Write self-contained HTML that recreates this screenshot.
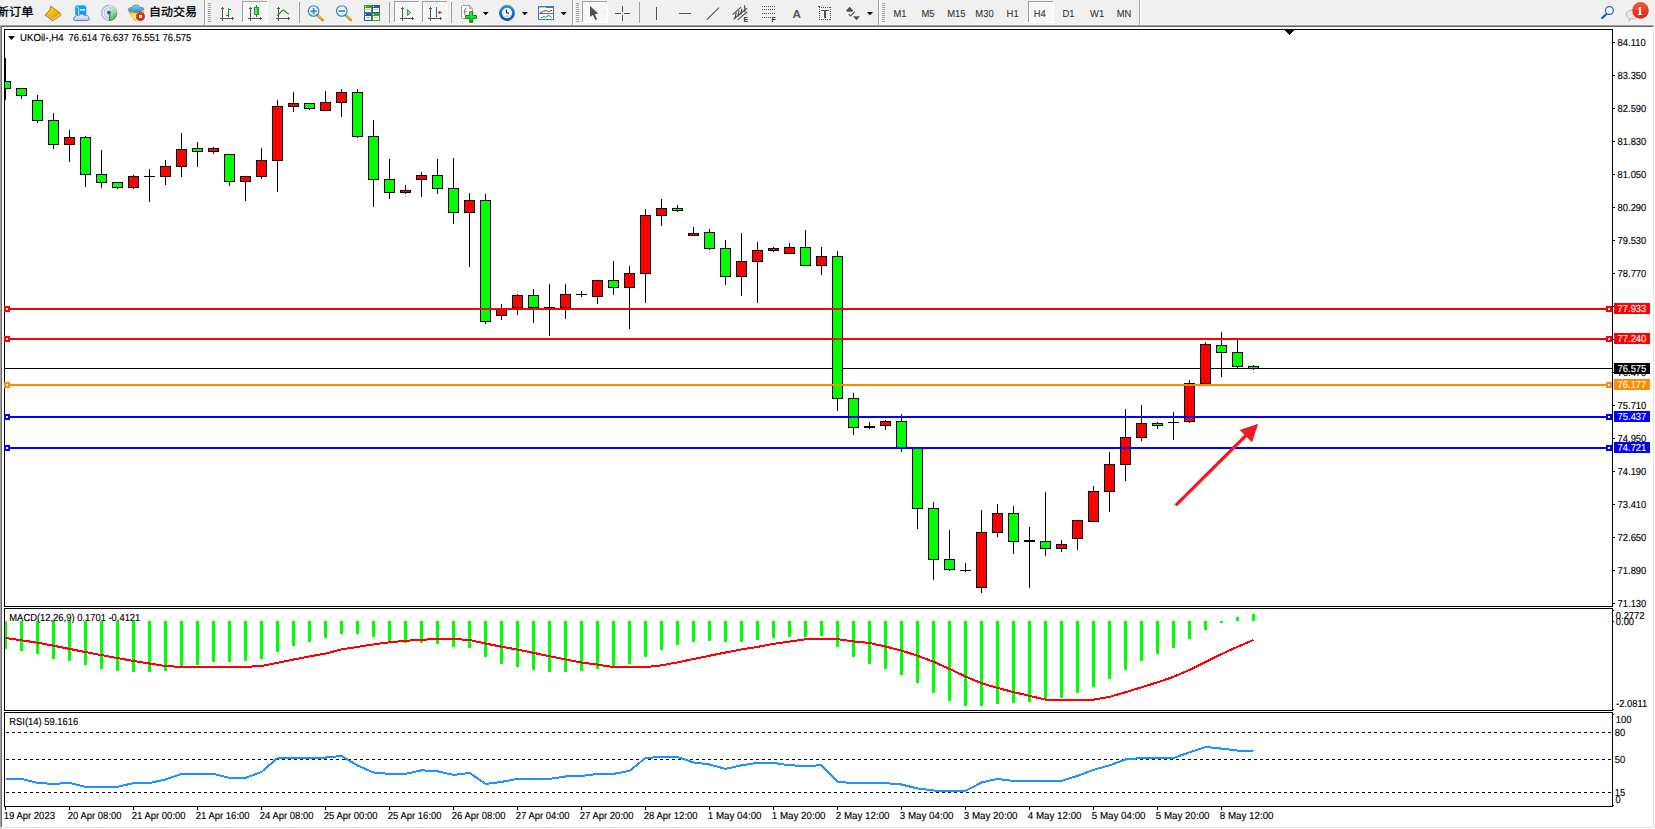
<!DOCTYPE html>
<html lang="zh-CN">
<head>
<meta charset="utf-8">
<title>UKOil-,H4</title>
<style>
html,body{margin:0;padding:0;background:#fff;}
body{width:1655px;height:829px;overflow:hidden;position:relative;font-family:"Liberation Sans","Noto Sans CJK SC",sans-serif;}
svg{position:absolute;left:0;top:0;display:block;}
.t text,text.t{font-family:"Liberation Sans",sans-serif;font-size:10.2px;fill:#000;stroke:#000;stroke-width:0.15px;text-rendering:geometricPrecision;}
text.w{fill:#fff;stroke:#fff;stroke-width:0.12px;}
.tb text{font-family:"Liberation Sans","Noto Sans CJK SC",sans-serif;}
</style>
</head>
<body>
<svg width="1655" height="829" viewBox="0 0 1655 829" shape-rendering="crispEdges">
<rect x="0" y="0" width="1655" height="829" fill="#fff"/>
<g class="tb">
<defs><linearGradient id="gGold" x1="0" y1="0" x2="1" y2="1"><stop offset="0" stop-color="#ffe14d"/><stop offset="0.5" stop-color="#f0b90f"/><stop offset="1" stop-color="#c98a06"/></linearGradient><linearGradient id="gCloud" x1="0" y1="0" x2="0" y2="1"><stop offset="0" stop-color="#ffffff"/><stop offset="1" stop-color="#b4bfd8"/></linearGradient><linearGradient id="gBadge" x1="0" y1="0" x2="0" y2="1"><stop offset="0" stop-color="#ea5a3a"/><stop offset="1" stop-color="#d8260c"/></linearGradient><linearGradient id="gHat" x1="0" y1="0" x2="0" y2="1"><stop offset="0" stop-color="#8fd0f0"/><stop offset="1" stop-color="#2f8fc8"/></linearGradient><linearGradient id="gCandle" x1="0" y1="0" x2="1" y2="0"><stop offset="0" stop-color="#7cf08c"/><stop offset="1" stop-color="#22c238"/></linearGradient><linearGradient id="gSig" x1="0.2" y1="0" x2="0.5" y2="1"><stop offset="0" stop-color="#d8ead8" stop-opacity="0.7"/><stop offset="0.6" stop-color="#9ccf9c"/><stop offset="1" stop-color="#3cae3c"/></linearGradient><linearGradient id="gFace" x1="0" y1="0" x2="1" y2="1"><stop offset="0" stop-color="#f0b820"/><stop offset="0.5" stop-color="#fff07a"/><stop offset="1" stop-color="#f0c030"/></linearGradient><linearGradient id="gClock" x1="0" y1="0" x2="0" y2="1"><stop offset="0" stop-color="#1c8cf0"/><stop offset="1" stop-color="#0a50b4"/></linearGradient><linearGradient id="gPlus" x1="0" y1="0" x2="0" y2="1"><stop offset="0" stop-color="#5cf46a"/><stop offset="0.5" stop-color="#14e428"/><stop offset="1" stop-color="#06b414"/></linearGradient><radialGradient id="gLens" cx="0.4" cy="0.35" r="0.8"><stop offset="0" stop-color="#ffffff"/><stop offset="1" stop-color="#bfe4fa"/></radialGradient><pattern id="chk" x="0" y="0" width="2" height="2" patternUnits="userSpaceOnUse"><rect width="2" height="2" fill="#f0f0f0"/><rect width="1" height="1" fill="#fff"/><rect x="1" y="1" width="1" height="1" fill="#fff"/></pattern></defs>
<rect x="0" y="0" width="1655" height="24" fill="#f0f0f0"/>
<rect x="0" y="24" width="1655" height="1" fill="#f4f4f4"/>
<rect x="0" y="25" width="1654" height="1" fill="#a0a0a0"/>
<rect x="1" y="26" width="1652" height="1" fill="#696969"/>
<rect x="1654" y="25" width="1" height="2" fill="#fff"/>
<text transform="translate(-3.4 16) scale(1.0 0.94)" font-size="12.3" fill="#000" stroke="#000" stroke-width="0.3">新订单</text>
<g shape-rendering="geometricPrecision"><path d="M50.9 6.1L60.6 13.6L61 15.3L52.6 20.8L45.1 15L49.8 10Z" fill="url(#gGold)" stroke="#b87408" stroke-width="1"/><path d="M45.4 15L52.6 20.4L53.4 18.8L46.6 13.8Z" fill="#c8880c"/><path d="M52.8 20.4L60.8 15.2L60.4 13.8L53.4 18.6Z" fill="#e6d49c"/><path d="M46.4 14.6L53 19.4" fill="none" stroke="#ffe890" stroke-width="0.8"/><path d="M53.4 19.8L60.6 15" fill="none" stroke="#b08a30" stroke-width="0.5"/></g>
<g shape-rendering="geometricPrecision"><path d="M75.2 5.6L84.6 5.2L86.2 7.2V15H75.2Z" fill="#0aa0ff"/><path d="M75.6 6L78.6 8.2V15" fill="none" stroke="#fff" stroke-width="0.8"/><rect x="80" y="9" width="5" height="1.6" fill="#e8f6ff"/><path d="M75.5 20.6C73 20.6 72.6 17.6 75 17.2C75 15.4 77.6 14.8 78.6 16C79.6 13.6 83.6 13.4 84.4 16C86 14.6 89 15.6 88.6 18C89.8 18.8 89.2 20.6 87.4 20.6Z" fill="url(#gCloud)" stroke="#5570aa" stroke-width="0.9"/></g>
<g shape-rendering="geometricPrecision" fill="none"><circle cx="109.1" cy="12.9" r="7.5" stroke="#3a66d0" stroke-opacity="0.5" stroke-width="1.1"/><circle cx="109.1" cy="12.9" r="5" stroke="#3a66d0" stroke-opacity="0.38" stroke-width="1.1"/><circle cx="109.1" cy="12.9" r="2.8" stroke="#3a66d0" stroke-opacity="0.2" stroke-width="0.9"/><path d="M109.2 12.9V21.1A8.2 8.2 0 0 0 109.2 4.7Z" fill="url(#gSig)" stroke="none"/><path d="M109.2 20.4A7.5 7.5 0 0 0 116.6 12.9" stroke="#2c8a4c" stroke-opacity="0.55" stroke-width="1"/><path d="M109.2 17.9A5 5 0 0 0 114.1 12.9" stroke="#3c9a5c" stroke-opacity="0.4" stroke-width="1"/><circle cx="108.9" cy="12.6" r="1.9" fill="#2456d0" stroke="none"/><rect x="109" y="13" width="1.3" height="7.9" fill="#16a616" stroke="none"/></g>
<g shape-rendering="geometricPrecision"><path d="M128.6 11.6L136 12.6L144 11.4L143.4 14L136.2 20.6L134.6 20.2Z" fill="url(#gFace)" stroke="#d8a010" stroke-width="0.7"/><path d="M128.2 9.6C128.2 8.2 130.4 7.6 132 7.6C132.6 5.4 134.4 5 136.2 5C138 5 139.6 5.6 140 7.4C142 7.2 144 7.8 144 9C144 10.4 140 12.2 135.6 12.2C131.6 12.2 128.2 11.2 128.2 9.6Z" fill="url(#gHat)" stroke="#2a86b8" stroke-width="0.7"/><circle cx="140.5" cy="16.5" r="4.1" fill="#e02a0c"/><circle cx="140.5" cy="16.5" r="4.1" fill="none" stroke="#b81c04" stroke-width="0.5"/><rect x="139" y="14.9" width="3.1" height="3.1" fill="#fff"/></g>
<text transform="translate(149 16) scale(1.0 0.94)" font-size="12" fill="#000" stroke="#000" stroke-width="0.3">自动交易</text>
<rect x="204" y="0" width="1" height="25" fill="#a0a0a0"/><rect x="205" y="0" width="1" height="25" fill="#fff"/>
<rect x="208" y="3" width="3" height="1" fill="#a0a0a0"/><rect x="208" y="5" width="3" height="1" fill="#a0a0a0"/><rect x="208" y="7" width="3" height="1" fill="#a0a0a0"/><rect x="208" y="9" width="3" height="1" fill="#a0a0a0"/><rect x="208" y="11" width="3" height="1" fill="#a0a0a0"/><rect x="208" y="13" width="3" height="1" fill="#a0a0a0"/><rect x="208" y="15" width="3" height="1" fill="#a0a0a0"/><rect x="208" y="17" width="3" height="1" fill="#a0a0a0"/><rect x="208" y="19" width="3" height="1" fill="#a0a0a0"/><rect x="208" y="21" width="3" height="1" fill="#a0a0a0"/>
<rect x="222" y="7" width="1" height="14" fill="#555"/><rect x="220" y="18" width="14" height="1" fill="#555"/><rect x="221" y="8" width="3" height="1" fill="#555"/><rect x="232" y="17" width="1" height="3" fill="#555"/>
<rect x="228" y="8" width="1" height="9" fill="#18901c"/><rect x="229" y="9" width="2" height="1" fill="#18901c"/><rect x="226" y="15" width="2" height="1" fill="#18901c"/>
<rect x="242" y="1" width="26" height="22" fill="url(#chk)"/>
<rect x="242" y="1" width="25" height="1" fill="#a0a0a0"/><rect x="242" y="1" width="1" height="22" fill="#a0a0a0"/><rect x="267" y="1" width="1" height="22" fill="#fff"/><rect x="242" y="22" width="26" height="1" fill="#fff"/>
<rect x="250" y="7" width="1" height="14" fill="#555"/><rect x="248" y="18" width="14" height="1" fill="#555"/><rect x="249" y="8" width="3" height="1" fill="#555"/><rect x="260" y="17" width="1" height="3" fill="#555"/>
<rect x="256" y="5" width="1" height="12" fill="#18901c"/><rect x="254" y="7" width="5" height="8" fill="#18a01c"/><rect x="255" y="8" width="3" height="6" fill="url(#gCandle)"/>
<rect x="278" y="7" width="1" height="14" fill="#555"/><rect x="276" y="18" width="14" height="1" fill="#555"/><rect x="277" y="8" width="3" height="1" fill="#555"/><rect x="288" y="17" width="1" height="3" fill="#555"/>
<path d="M277 15.8C280 14 281.6 10 283.4 10.2C285 10.4 286.6 13.2 288.8 14" fill="none" stroke="#2c922c" stroke-width="1.2" shape-rendering="geometricPrecision"/>
<rect x="299" y="2" width="1" height="21" fill="#a0a0a0"/>
<g shape-rendering="geometricPrecision"><path d="M317.20000000000005 14.8L322.8 20.2" stroke="#c89a12" stroke-width="2.6" stroke-linecap="round"/><path d="M317.6 14.6L322.6 19.4" stroke="#f6dc6a" stroke-width="0.9"/><circle cx="313.6" cy="11" r="5.3" fill="url(#gLens)" stroke="#2f80c8" stroke-width="1.1"/><rect x="310.40000000000003" y="10.2" width="6.4" height="1.7" fill="#3f86b4"/><rect x="312.75" y="7.8" width="1.7" height="6.4" fill="#3f86b4"/></g>
<g shape-rendering="geometricPrecision"><path d="M345.40000000000003 14.8L351.0 20.2" stroke="#c89a12" stroke-width="2.6" stroke-linecap="round"/><path d="M345.8 14.6L350.8 19.4" stroke="#f6dc6a" stroke-width="0.9"/><circle cx="341.8" cy="11" r="5.3" fill="url(#gLens)" stroke="#2f80c8" stroke-width="1.1"/><rect x="338.6" y="10.2" width="6.4" height="1.7" fill="#3f86b4"/></g>
<rect x="364" y="5" width="8" height="8" fill="#3f9c1c"/><rect x="365" y="8" width="6" height="4" fill="#fff"/><rect x="366" y="9" width="4" height="1" fill="#a8dc8c"/><rect x="365" y="6" width="1" height="1" fill="#fff"/><rect x="372" y="5" width="8" height="8" fill="#2354d4"/><rect x="373" y="8" width="6" height="4" fill="#fff"/><rect x="374" y="9" width="4" height="1" fill="#a8c0f4"/><rect x="373" y="6" width="1" height="1" fill="#fff"/><rect x="364" y="13" width="8" height="8" fill="#2354d4"/><rect x="365" y="16" width="6" height="4" fill="#fff"/><rect x="366" y="17" width="4" height="1" fill="#a8c0f4"/><rect x="365" y="14" width="1" height="1" fill="#fff"/><rect x="372" y="13" width="8" height="8" fill="#3f9c1c"/><rect x="373" y="16" width="6" height="4" fill="#fff"/><rect x="374" y="17" width="4" height="1" fill="#a8dc8c"/><rect x="373" y="14" width="1" height="1" fill="#fff"/>
<rect x="389" y="2" width="1" height="21" fill="#a0a0a0"/>
<rect x="394" y="1" width="26" height="22" fill="url(#chk)"/>
<rect x="394" y="1" width="25" height="1" fill="#a0a0a0"/><rect x="394" y="1" width="1" height="22" fill="#a0a0a0"/><rect x="419" y="1" width="1" height="22" fill="#fff"/><rect x="394" y="22" width="26" height="1" fill="#fff"/>
<rect x="402" y="7" width="1" height="14" fill="#555"/><rect x="400" y="18" width="14" height="1" fill="#555"/><rect x="401" y="8" width="3" height="1" fill="#555"/><rect x="412" y="17" width="1" height="3" fill="#555"/>
<path d="M407.4 9.4L410.8 12.6L407.4 15.6Z" fill="#7ce08c" stroke="#18a01c" stroke-width="0.9" shape-rendering="geometricPrecision"/>
<rect x="422" y="1" width="26" height="22" fill="url(#chk)"/>
<rect x="422" y="1" width="25" height="1" fill="#a0a0a0"/><rect x="422" y="1" width="1" height="22" fill="#a0a0a0"/><rect x="447" y="1" width="1" height="22" fill="#fff"/><rect x="422" y="22" width="26" height="1" fill="#fff"/>
<rect x="430" y="7" width="1" height="14" fill="#555"/><rect x="428" y="18" width="14" height="1" fill="#555"/><rect x="429" y="8" width="3" height="1" fill="#555"/><rect x="440" y="17" width="1" height="3" fill="#555"/>
<rect x="436" y="7" width="1" height="10" fill="#1a6cb0"/>
<path d="M437.6 12.4L440.2 10.2V11.8H442V13H440.2V14.6Z" fill="#d84a10" shape-rendering="geometricPrecision"/>
<rect x="451" y="2" width="1" height="21" fill="#a0a0a0"/>
<g shape-rendering="geometricPrecision"><path d="M461.6 6.2Q461.6 5.4 462.4 5.4H469.4L472.4 8.4V17.6Q472.4 18.6 471.4 18.6H462.6Q461.6 18.6 461.6 17.6Z" fill="#fdfdfd" stroke="#8c8c8c" stroke-width="0.9"/><path d="M469.4 5.6V8.4H472.2" fill="#e0e0e0" stroke="#8c8c8c" stroke-width="0.7"/><path d="M466.4 8.2C464.4 8.4 465 11 464.2 11.6C465 12.2 464.4 15 465.4 15.6M464.6 11.6H466.6" fill="none" stroke="#4a4a3a" stroke-width="0.8"/><path d="M469.7 11.7H472.7V15.5H476.5V18.3H472.7V22.3H469.7V18.3H465.7V15.5H469.7Z" fill="url(#gPlus)" stroke="#0a8c12" stroke-width="1"/></g>
<path d="M482.7 12H488.7L485.7 15.2Z" fill="#000" shape-rendering="geometricPrecision"/>
<g shape-rendering="geometricPrecision"><circle cx="507" cy="13" r="6.55" fill="#f4f8fc" stroke="url(#gClock)" stroke-width="2.8"/><path d="M506.2 9.6L506.6 12.8L509 13.2" fill="none" stroke="#1a1a1a" stroke-width="1.1"/><path d="M502.6 10.6L503.4 11M502.4 14.8L503.2 14.6M511.4 10.8L510.8 11.2M511 15.6L510.4 15.2M504.6 17.2L505 16.6" stroke="#555" stroke-width="0.6"/><path d="M505.8 16.2H508" stroke="#7ab0f0" stroke-width="0.9"/></g>
<path d="M521.8 12H527.8L524.8 15.2Z" fill="#000" shape-rendering="geometricPrecision"/>
<rect x="538" y="6" width="16" height="14" fill="#3c78c8"/><rect x="539" y="8" width="14" height="11" fill="#fff"/><rect x="539" y="7" width="7" height="1" fill="#a8c8f0"/><rect x="538" y="13" width="16" height="1" fill="#3c78c8"/>
<g shape-rendering="geometricPrecision" fill="none" stroke-width="1"><path d="M540 12.2H542L543.6 11H545L546.4 10.4L548 11.4H549.6L551 10.4H552" stroke="#a02810"/><path d="M541 17.4H542.6L544 16.4L545.6 17.4L547 16.4L548.6 15.2L550.4 16.6L551.6 17.6" stroke="#109020"/></g>
<path d="M560.7 12H566.7L563.7 15.2Z" fill="#000" shape-rendering="geometricPrecision"/>
<rect x="572" y="0" width="1" height="25" fill="#a0a0a0"/><rect x="573" y="0" width="1" height="25" fill="#fff"/>
<rect x="576" y="3" width="3" height="1" fill="#a0a0a0"/><rect x="576" y="5" width="3" height="1" fill="#a0a0a0"/><rect x="576" y="7" width="3" height="1" fill="#a0a0a0"/><rect x="576" y="9" width="3" height="1" fill="#a0a0a0"/><rect x="576" y="11" width="3" height="1" fill="#a0a0a0"/><rect x="576" y="13" width="3" height="1" fill="#a0a0a0"/><rect x="576" y="15" width="3" height="1" fill="#a0a0a0"/><rect x="576" y="17" width="3" height="1" fill="#a0a0a0"/><rect x="576" y="19" width="3" height="1" fill="#a0a0a0"/><rect x="576" y="21" width="3" height="1" fill="#a0a0a0"/>
<rect x="582" y="1" width="26" height="22" fill="url(#chk)"/>
<rect x="582" y="1" width="25" height="1" fill="#a0a0a0"/><rect x="582" y="1" width="1" height="22" fill="#a0a0a0"/><rect x="607" y="1" width="1" height="22" fill="#fff"/><rect x="582" y="22" width="26" height="1" fill="#fff"/>
<path d="M590 6V16.7L592.9 14.9L595.3 20.1L597.1 19.2L594.8 14.3L598.2 13.5Z" fill="#505050" shape-rendering="geometricPrecision"/>
<rect x="615" y="13" width="6" height="1" fill="#505050"/><rect x="624" y="13" width="6" height="1" fill="#505050"/><rect x="622" y="6" width="1" height="6" fill="#505050"/><rect x="622" y="15" width="1" height="6" fill="#505050"/><rect x="622" y="13" width="1" height="1" fill="#a0a0a0"/>
<rect x="639" y="2" width="1" height="21" fill="#a0a0a0"/>
<rect x="656" y="7" width="1" height="13" fill="#505050"/>
<rect x="679" y="13" width="12" height="1" fill="#505050"/>
<path d="M706.8 19.6L719 7.6" stroke="#505050" stroke-width="1.1" fill="none" shape-rendering="geometricPrecision"/>
<g shape-rendering="geometricPrecision" stroke="#4a4a4a" stroke-width="1.1" fill="none"><path d="M732.6 14.6L741 7.2M733.6 19.2L747 8.2M737.6 19.8L747.2 11.8"/><path d="M736.2 12.4L735 18.4M739 10.6L737.8 16.6M741.8 8.8L740.8 14.6M744.6 5.4L745 12.4" stroke-width="1.2"/></g>
<text x="743.6" y="22" font-size="7" font-weight="bold" fill="#333">E</text>
<rect x="762" y="6" width="1" height="1" fill="#505050"/><rect x="764" y="6" width="1" height="1" fill="#505050"/><rect x="766" y="6" width="1" height="1" fill="#505050"/><rect x="768" y="6" width="1" height="1" fill="#505050"/><rect x="770" y="6" width="1" height="1" fill="#505050"/><rect x="772" y="6" width="1" height="1" fill="#505050"/><rect x="774" y="6" width="1" height="1" fill="#505050"/><rect x="762" y="9" width="1" height="1" fill="#505050"/><rect x="764" y="9" width="1" height="1" fill="#505050"/><rect x="766" y="9" width="1" height="1" fill="#505050"/><rect x="768" y="9" width="1" height="1" fill="#505050"/><rect x="770" y="9" width="1" height="1" fill="#505050"/><rect x="772" y="9" width="1" height="1" fill="#505050"/><rect x="774" y="9" width="1" height="1" fill="#505050"/><rect x="762" y="13" width="1" height="1" fill="#505050"/><rect x="764" y="13" width="1" height="1" fill="#505050"/><rect x="766" y="13" width="1" height="1" fill="#505050"/><rect x="768" y="13" width="1" height="1" fill="#505050"/><rect x="770" y="13" width="1" height="1" fill="#505050"/><rect x="772" y="13" width="1" height="1" fill="#505050"/><rect x="774" y="13" width="1" height="1" fill="#505050"/><rect x="762" y="17" width="1" height="1" fill="#505050"/><rect x="764" y="17" width="1" height="1" fill="#505050"/><rect x="766" y="17" width="1" height="1" fill="#505050"/><rect x="768" y="17" width="1" height="1" fill="#505050"/><rect x="770" y="17" width="1" height="1" fill="#505050"/>
<text x="771.6" y="22" font-size="7" font-weight="bold" fill="#333">F</text>
<text x="792.6" y="18" font-size="11.8" font-weight="bold" fill="#585858">A</text>
<rect x="819" y="7" width="1" height="1" fill="#505050"/><rect x="819" y="19" width="1" height="1" fill="#505050"/><rect x="821" y="7" width="1" height="1" fill="#505050"/><rect x="821" y="19" width="1" height="1" fill="#505050"/><rect x="823" y="7" width="1" height="1" fill="#505050"/><rect x="823" y="19" width="1" height="1" fill="#505050"/><rect x="825" y="7" width="1" height="1" fill="#505050"/><rect x="825" y="19" width="1" height="1" fill="#505050"/><rect x="827" y="7" width="1" height="1" fill="#505050"/><rect x="827" y="19" width="1" height="1" fill="#505050"/><rect x="829" y="7" width="1" height="1" fill="#505050"/><rect x="829" y="19" width="1" height="1" fill="#505050"/><rect x="819" y="7" width="1" height="1" fill="#505050"/><rect x="830" y="7" width="1" height="1" fill="#505050"/><rect x="819" y="9" width="1" height="1" fill="#505050"/><rect x="830" y="9" width="1" height="1" fill="#505050"/><rect x="819" y="11" width="1" height="1" fill="#505050"/><rect x="830" y="11" width="1" height="1" fill="#505050"/><rect x="819" y="13" width="1" height="1" fill="#505050"/><rect x="830" y="13" width="1" height="1" fill="#505050"/><rect x="819" y="15" width="1" height="1" fill="#505050"/><rect x="830" y="15" width="1" height="1" fill="#505050"/><rect x="819" y="17" width="1" height="1" fill="#505050"/><rect x="830" y="17" width="1" height="1" fill="#505050"/><rect x="819" y="19" width="1" height="1" fill="#505050"/><rect x="830" y="19" width="1" height="1" fill="#505050"/><rect x="818" y="6" width="2" height="1" fill="#505050"/>
<rect x="821" y="10" width="8" height="1" fill="#505050"/><rect x="824" y="10" width="2" height="8" fill="#505050"/>
<g shape-rendering="geometricPrecision" fill="#505050"><path d="M846 10.6L849.6 6.8L853.2 10.6L852 11.8H847.2Z"/><path d="M853 16.2H860L856.4 20.2Z"/><path d="M848.6 14.2L850.6 16L854.6 11.6" fill="none" stroke="#505050" stroke-width="1.1"/></g>
<path d="M867 12H873L870 15.2Z" fill="#000" shape-rendering="geometricPrecision"/>
<rect x="878" y="0" width="1" height="25" fill="#a0a0a0"/><rect x="879" y="0" width="1" height="25" fill="#fff"/>
<rect x="882" y="3" width="3" height="1" fill="#a0a0a0"/><rect x="882" y="5" width="3" height="1" fill="#a0a0a0"/><rect x="882" y="7" width="3" height="1" fill="#a0a0a0"/><rect x="882" y="9" width="3" height="1" fill="#a0a0a0"/><rect x="882" y="11" width="3" height="1" fill="#a0a0a0"/><rect x="882" y="13" width="3" height="1" fill="#a0a0a0"/><rect x="882" y="15" width="3" height="1" fill="#a0a0a0"/><rect x="882" y="17" width="3" height="1" fill="#a0a0a0"/><rect x="882" y="19" width="3" height="1" fill="#a0a0a0"/><rect x="882" y="21" width="3" height="1" fill="#a0a0a0"/>
<rect x="1028" y="1" width="26" height="22" fill="url(#chk)"/>
<rect x="1028" y="1" width="25" height="1" fill="#a0a0a0"/><rect x="1028" y="1" width="1" height="22" fill="#a0a0a0"/><rect x="1053" y="1" width="1" height="22" fill="#fff"/><rect x="1028" y="22" width="26" height="1" fill="#fff"/>
<g font-size="10.2" fill="#303030" stroke="#303030" stroke-width="0.08" text-rendering="geometricPrecision" text-anchor="middle"><text transform="translate(900 17) scale(0.9216 1)">M1</text><text transform="translate(928 17) scale(0.9216 1)">M5</text><text transform="translate(956.4 17) scale(0.9216 1)">M15</text><text transform="translate(984.5 17) scale(0.9216 1)">M30</text><text transform="translate(1012.6 17) scale(0.9216 1)">H1</text><text transform="translate(1039.8 17) scale(0.9216 1)">H4</text><text transform="translate(1068.4 17) scale(0.9216 1)">D1</text><text transform="translate(1097.1 17) scale(0.9216 1)">W1</text><text transform="translate(1124 17) scale(0.9216 1)">MN</text></g>
<rect x="1139" y="0" width="1" height="25" fill="#a0a0a0"/><rect x="1140" y="0" width="1" height="25" fill="#fff"/>
<g shape-rendering="geometricPrecision"><path d="M1606 14.4L1602.2 18" stroke="#1f5fd8" stroke-width="2.3" stroke-linecap="round"/><circle cx="1609.4" cy="10.5" r="3.9" fill="#fafaff" stroke="#1f5fd8" stroke-width="1.2"/></g>
<g shape-rendering="geometricPrecision"><path d="M1626.4 14.4C1626.4 11.6 1629 10.2 1632 10.2C1635.4 10.2 1638 11.8 1638 14.6C1638 17.4 1635.6 19 1632 19C1631.4 19 1630.8 19 1630.4 18.9L1629.2 21.4L1629.4 18.6C1627.4 17.8 1626.4 16.4 1626.4 14.4Z" fill="#e8e8ee" stroke="#a8a8a8" stroke-width="0.8"/><circle cx="1640.5" cy="10.4" r="8.3" fill="url(#gBadge)"/></g>
<text x="1639.8" y="15" font-size="12.5" font-weight="bold" fill="#fff" text-anchor="middle" style="font-family:'Liberation Serif',serif">1</text>
</g>
<g class="chart">
<rect x="0" y="25" width="1" height="804" fill="#a0a0a0"/><rect x="1" y="26" width="1" height="802" fill="#696969"/>
<rect x="4" y="29" width="1609" height="1" fill="#000"/>
<rect x="4" y="29" width="1" height="778" fill="#000"/>
<rect x="1612" y="29" width="1" height="778" fill="#000"/>
<rect x="4" y="606" width="1609" height="1" fill="#000"/>
<rect x="4" y="608" width="1609" height="1" fill="#000"/>
<rect x="4" y="710" width="1609" height="1" fill="#000"/>
<rect x="4" y="712" width="1609" height="1" fill="#000"/>
<rect x="4" y="806" width="1609" height="1" fill="#000"/>
<rect x="4" y="607" width="1609" height="1" fill="#fff"/>
<rect x="4" y="711" width="1609" height="1" fill="#fff"/>
<rect x="1613" y="610" width="1" height="1" fill="#000"/>
<rect x="1613" y="621" width="1" height="1" fill="#000"/>
<rect x="1613" y="709" width="1" height="1" fill="#000"/>
<rect x="1613" y="714" width="1" height="1" fill="#000"/>
<rect x="1613" y="805" width="1" height="1" fill="#000"/>
<rect x="1653" y="26" width="1" height="802" fill="#e3e3e3"/>
<rect x="0" y="827" width="1654" height="1" fill="#e3e3e3"/>
<path d="M1284.5 30H1294.5L1289.5 35Z" fill="#000"/>
<rect x="5" y="368" width="1607" height="1" fill="#000"/>
<g><rect x="5" y="58" width="1" height="42" fill="#000"/><rect x="5" y="81" width="6" height="8" fill="#000"/><rect x="5" y="82" width="5" height="6" fill="#00ff00"/><rect x="21" y="88" width="1" height="11" fill="#000"/><rect x="16" y="88" width="11" height="8" fill="#000"/><rect x="17" y="89" width="9" height="6" fill="#00ff00"/><rect x="37" y="95" width="1" height="28" fill="#000"/><rect x="32" y="100" width="11" height="21" fill="#000"/><rect x="33" y="101" width="9" height="19" fill="#00ff00"/><rect x="53" y="113" width="1" height="36" fill="#000"/><rect x="48" y="120" width="11" height="25" fill="#000"/><rect x="49" y="121" width="9" height="23" fill="#00ff00"/><rect x="69" y="130" width="1" height="32" fill="#000"/><rect x="64" y="137" width="11" height="8" fill="#000"/><rect x="65" y="138" width="9" height="6" fill="#ff0000"/><rect x="85" y="136" width="1" height="51" fill="#000"/><rect x="80" y="137" width="11" height="38" fill="#000"/><rect x="81" y="138" width="9" height="36" fill="#00ff00"/><rect x="101" y="150" width="1" height="38" fill="#000"/><rect x="96" y="174" width="11" height="9" fill="#000"/><rect x="97" y="175" width="9" height="7" fill="#00ff00"/><rect x="117" y="182" width="1" height="7" fill="#000"/><rect x="112" y="182" width="11" height="6" fill="#000"/><rect x="113" y="183" width="9" height="4" fill="#00ff00"/><rect x="133" y="175" width="1" height="14" fill="#000"/><rect x="128" y="176" width="11" height="12" fill="#000"/><rect x="129" y="177" width="9" height="10" fill="#ff0000"/><rect x="149" y="169" width="1" height="33" fill="#000"/><rect x="144" y="176" width="11" height="1" fill="#000"/><rect x="165" y="160" width="1" height="25" fill="#000"/><rect x="160" y="166" width="11" height="11" fill="#000"/><rect x="161" y="167" width="9" height="9" fill="#ff0000"/><rect x="181" y="133" width="1" height="44" fill="#000"/><rect x="176" y="149" width="11" height="18" fill="#000"/><rect x="177" y="150" width="9" height="16" fill="#ff0000"/><rect x="197" y="142" width="1" height="25" fill="#000"/><rect x="192" y="148" width="11" height="4" fill="#000"/><rect x="193" y="149" width="9" height="2" fill="#00ff00"/><rect x="213" y="147" width="1" height="7" fill="#000"/><rect x="208" y="148" width="11" height="4" fill="#000"/><rect x="209" y="149" width="9" height="2" fill="#ff0000"/><rect x="229" y="154" width="1" height="32" fill="#000"/><rect x="224" y="154" width="11" height="28" fill="#000"/><rect x="225" y="155" width="9" height="26" fill="#00ff00"/><rect x="245" y="176" width="1" height="25" fill="#000"/><rect x="240" y="176" width="11" height="6" fill="#000"/><rect x="241" y="177" width="9" height="4" fill="#ff0000"/><rect x="261" y="148" width="1" height="31" fill="#000"/><rect x="256" y="160" width="11" height="17" fill="#000"/><rect x="257" y="161" width="9" height="15" fill="#ff0000"/><rect x="277" y="100" width="1" height="92" fill="#000"/><rect x="272" y="106" width="11" height="55" fill="#000"/><rect x="273" y="107" width="9" height="53" fill="#ff0000"/><rect x="293" y="92" width="1" height="20" fill="#000"/><rect x="288" y="103" width="11" height="4" fill="#000"/><rect x="289" y="104" width="9" height="2" fill="#ff0000"/><rect x="309" y="103" width="1" height="7" fill="#000"/><rect x="304" y="103" width="11" height="6" fill="#000"/><rect x="305" y="104" width="9" height="4" fill="#00ff00"/><rect x="325" y="91" width="1" height="20" fill="#000"/><rect x="320" y="102" width="11" height="9" fill="#000"/><rect x="321" y="103" width="9" height="7" fill="#ff0000"/><rect x="341" y="89" width="1" height="28" fill="#000"/><rect x="336" y="92" width="11" height="11" fill="#000"/><rect x="337" y="93" width="9" height="9" fill="#ff0000"/><rect x="357" y="89" width="1" height="49" fill="#000"/><rect x="352" y="92" width="11" height="45" fill="#000"/><rect x="353" y="93" width="9" height="43" fill="#00ff00"/><rect x="373" y="120" width="1" height="87" fill="#000"/><rect x="368" y="136" width="11" height="44" fill="#000"/><rect x="369" y="137" width="9" height="42" fill="#00ff00"/><rect x="389" y="159" width="1" height="40" fill="#000"/><rect x="384" y="179" width="11" height="14" fill="#000"/><rect x="385" y="180" width="9" height="12" fill="#00ff00"/><rect x="405" y="185" width="1" height="9" fill="#000"/><rect x="400" y="190" width="11" height="3" fill="#000"/><rect x="401" y="191" width="9" height="1" fill="#ff0000"/><rect x="421" y="172" width="1" height="25" fill="#000"/><rect x="416" y="175" width="11" height="5" fill="#000"/><rect x="417" y="176" width="9" height="3" fill="#ff0000"/><rect x="437" y="159" width="1" height="35" fill="#000"/><rect x="432" y="175" width="11" height="14" fill="#000"/><rect x="433" y="176" width="9" height="12" fill="#00ff00"/><rect x="453" y="158" width="1" height="66" fill="#000"/><rect x="448" y="188" width="11" height="25" fill="#000"/><rect x="449" y="189" width="9" height="23" fill="#00ff00"/><rect x="469" y="193" width="1" height="74" fill="#000"/><rect x="464" y="200" width="11" height="13" fill="#000"/><rect x="465" y="201" width="9" height="11" fill="#ff0000"/><rect x="485" y="194" width="1" height="130" fill="#000"/><rect x="480" y="200" width="11" height="122" fill="#000"/><rect x="481" y="201" width="9" height="120" fill="#00ff00"/><rect x="501" y="304" width="1" height="16" fill="#000"/><rect x="496" y="308" width="11" height="8" fill="#000"/><rect x="497" y="309" width="9" height="6" fill="#ff0000"/><rect x="517" y="294" width="1" height="21" fill="#000"/><rect x="512" y="295" width="11" height="13" fill="#000"/><rect x="513" y="296" width="9" height="11" fill="#ff0000"/><rect x="533" y="289" width="1" height="34" fill="#000"/><rect x="528" y="295" width="11" height="13" fill="#000"/><rect x="529" y="296" width="9" height="11" fill="#00ff00"/><rect x="549" y="284" width="1" height="52" fill="#000"/><rect x="544" y="307" width="11" height="1" fill="#000"/><rect x="565" y="284" width="1" height="35" fill="#000"/><rect x="560" y="294" width="11" height="14" fill="#000"/><rect x="561" y="295" width="9" height="12" fill="#ff0000"/><rect x="581" y="291" width="1" height="6" fill="#000"/><rect x="576" y="294" width="11" height="1" fill="#000"/><rect x="597" y="280" width="1" height="24" fill="#000"/><rect x="592" y="280" width="11" height="17" fill="#000"/><rect x="593" y="281" width="9" height="15" fill="#ff0000"/><rect x="613" y="261" width="1" height="34" fill="#000"/><rect x="608" y="280" width="11" height="8" fill="#000"/><rect x="609" y="281" width="9" height="6" fill="#00ff00"/><rect x="629" y="266" width="1" height="63" fill="#000"/><rect x="624" y="273" width="11" height="15" fill="#000"/><rect x="625" y="274" width="9" height="13" fill="#ff0000"/><rect x="645" y="209" width="1" height="94" fill="#000"/><rect x="640" y="215" width="11" height="59" fill="#000"/><rect x="641" y="216" width="9" height="57" fill="#ff0000"/><rect x="661" y="199" width="1" height="27" fill="#000"/><rect x="656" y="208" width="11" height="8" fill="#000"/><rect x="657" y="209" width="9" height="6" fill="#ff0000"/><rect x="677" y="205" width="1" height="7" fill="#000"/><rect x="672" y="208" width="11" height="3" fill="#000"/><rect x="673" y="209" width="9" height="1" fill="#00ff00"/><rect x="693" y="227" width="1" height="9" fill="#000"/><rect x="688" y="233" width="11" height="3" fill="#000"/><rect x="689" y="234" width="9" height="1" fill="#ff0000"/><rect x="709" y="229" width="1" height="21" fill="#000"/><rect x="704" y="232" width="11" height="17" fill="#000"/><rect x="705" y="233" width="9" height="15" fill="#00ff00"/><rect x="725" y="240" width="1" height="45" fill="#000"/><rect x="720" y="248" width="11" height="29" fill="#000"/><rect x="721" y="249" width="9" height="27" fill="#00ff00"/><rect x="741" y="233" width="1" height="63" fill="#000"/><rect x="736" y="261" width="11" height="16" fill="#000"/><rect x="737" y="262" width="9" height="14" fill="#ff0000"/><rect x="757" y="242" width="1" height="61" fill="#000"/><rect x="752" y="250" width="11" height="12" fill="#000"/><rect x="753" y="251" width="9" height="10" fill="#ff0000"/><rect x="773" y="247" width="1" height="5" fill="#000"/><rect x="768" y="248" width="11" height="3" fill="#000"/><rect x="769" y="249" width="9" height="1" fill="#ff0000"/><rect x="789" y="243" width="1" height="11" fill="#000"/><rect x="784" y="247" width="11" height="7" fill="#000"/><rect x="785" y="248" width="9" height="5" fill="#ff0000"/><rect x="805" y="230" width="1" height="36" fill="#000"/><rect x="800" y="247" width="11" height="19" fill="#000"/><rect x="801" y="248" width="9" height="17" fill="#00ff00"/><rect x="821" y="247" width="1" height="28" fill="#000"/><rect x="816" y="256" width="11" height="10" fill="#000"/><rect x="817" y="257" width="9" height="8" fill="#ff0000"/><rect x="837" y="251" width="1" height="160" fill="#000"/><rect x="832" y="256" width="11" height="143" fill="#000"/><rect x="833" y="257" width="9" height="141" fill="#00ff00"/><rect x="853" y="393" width="1" height="42" fill="#000"/><rect x="848" y="398" width="11" height="30" fill="#000"/><rect x="849" y="399" width="9" height="28" fill="#00ff00"/><rect x="869" y="422" width="1" height="7" fill="#000"/><rect x="864" y="426" width="11" height="2" fill="#000"/><rect x="885" y="420" width="1" height="10" fill="#000"/><rect x="880" y="421" width="11" height="5" fill="#000"/><rect x="881" y="422" width="9" height="3" fill="#ff0000"/><rect x="901" y="414" width="1" height="38" fill="#000"/><rect x="896" y="421" width="11" height="27" fill="#000"/><rect x="897" y="422" width="9" height="25" fill="#00ff00"/><rect x="917" y="448" width="1" height="81" fill="#000"/><rect x="912" y="448" width="11" height="61" fill="#000"/><rect x="913" y="449" width="9" height="59" fill="#00ff00"/><rect x="933" y="502" width="1" height="78" fill="#000"/><rect x="928" y="508" width="11" height="52" fill="#000"/><rect x="929" y="509" width="9" height="50" fill="#00ff00"/><rect x="949" y="530" width="1" height="41" fill="#000"/><rect x="944" y="559" width="11" height="11" fill="#000"/><rect x="945" y="560" width="9" height="9" fill="#00ff00"/><rect x="965" y="563" width="1" height="9" fill="#000"/><rect x="960" y="570" width="11" height="1" fill="#000"/><rect x="981" y="510" width="1" height="83" fill="#000"/><rect x="976" y="532" width="11" height="56" fill="#000"/><rect x="977" y="533" width="9" height="54" fill="#ff0000"/><rect x="997" y="504" width="1" height="33" fill="#000"/><rect x="992" y="513" width="11" height="20" fill="#000"/><rect x="993" y="514" width="9" height="18" fill="#ff0000"/><rect x="1013" y="506" width="1" height="48" fill="#000"/><rect x="1008" y="513" width="11" height="29" fill="#000"/><rect x="1009" y="514" width="9" height="27" fill="#00ff00"/><rect x="1029" y="527" width="1" height="61" fill="#000"/><rect x="1024" y="540" width="11" height="2" fill="#000"/><rect x="1045" y="492" width="1" height="64" fill="#000"/><rect x="1040" y="541" width="11" height="8" fill="#000"/><rect x="1041" y="542" width="9" height="6" fill="#00ff00"/><rect x="1061" y="540" width="1" height="12" fill="#000"/><rect x="1056" y="544" width="11" height="5" fill="#000"/><rect x="1057" y="545" width="9" height="3" fill="#ff0000"/><rect x="1077" y="520" width="1" height="30" fill="#000"/><rect x="1072" y="520" width="11" height="19" fill="#000"/><rect x="1073" y="521" width="9" height="17" fill="#ff0000"/><rect x="1093" y="486" width="1" height="36" fill="#000"/><rect x="1088" y="491" width="11" height="31" fill="#000"/><rect x="1089" y="492" width="9" height="29" fill="#ff0000"/><rect x="1109" y="452" width="1" height="60" fill="#000"/><rect x="1104" y="464" width="11" height="28" fill="#000"/><rect x="1105" y="465" width="9" height="26" fill="#ff0000"/><rect x="1125" y="409" width="1" height="72" fill="#000"/><rect x="1120" y="437" width="11" height="28" fill="#000"/><rect x="1121" y="438" width="9" height="26" fill="#ff0000"/><rect x="1141" y="405" width="1" height="36" fill="#000"/><rect x="1136" y="423" width="11" height="15" fill="#000"/><rect x="1137" y="424" width="9" height="13" fill="#ff0000"/><rect x="1157" y="422" width="1" height="7" fill="#000"/><rect x="1152" y="423" width="11" height="3" fill="#000"/><rect x="1153" y="424" width="9" height="1" fill="#00ff00"/><rect x="1173" y="412" width="1" height="28" fill="#000"/><rect x="1168" y="422" width="11" height="1" fill="#000"/><rect x="1189" y="380" width="1" height="43" fill="#000"/><rect x="1184" y="383" width="11" height="39" fill="#000"/><rect x="1185" y="384" width="9" height="37" fill="#ff0000"/><rect x="1205" y="342" width="1" height="42" fill="#000"/><rect x="1200" y="344" width="11" height="40" fill="#000"/><rect x="1201" y="345" width="9" height="38" fill="#ff0000"/><rect x="1221" y="332" width="1" height="45" fill="#000"/><rect x="1216" y="345" width="11" height="8" fill="#000"/><rect x="1217" y="346" width="9" height="6" fill="#00ff00"/><rect x="1237" y="340" width="1" height="29" fill="#000"/><rect x="1232" y="352" width="11" height="15" fill="#000"/><rect x="1233" y="353" width="9" height="13" fill="#00ff00"/><rect x="1253" y="365" width="1" height="5" fill="#000"/><rect x="1248" y="366" width="11" height="3" fill="#000"/><rect x="1249" y="367" width="9" height="1" fill="#00ff00"/></g>
<rect x="5" y="308" width="1607" height="2" fill="#ff0000"/><rect x="4" y="306" width="6" height="6" fill="#ff0000"/><rect x="6" y="308" width="2" height="2" fill="#fff"/><rect x="1606" y="306" width="6" height="6" fill="#ff0000"/><rect x="1608" y="308" width="2" height="2" fill="#fff"/>
<rect x="5" y="338" width="1607" height="2" fill="#ff0000"/><rect x="4" y="336" width="6" height="6" fill="#ff0000"/><rect x="6" y="338" width="2" height="2" fill="#fff"/><rect x="1606" y="336" width="6" height="6" fill="#ff0000"/><rect x="1608" y="338" width="2" height="2" fill="#fff"/>
<rect x="5" y="384" width="1607" height="2" fill="#ff8c00"/><rect x="4" y="382" width="6" height="6" fill="#ff8c00"/><rect x="6" y="384" width="2" height="2" fill="#fff"/><rect x="1606" y="382" width="6" height="6" fill="#ff8c00"/><rect x="1608" y="384" width="2" height="2" fill="#fff"/>
<rect x="5" y="416" width="1607" height="2" fill="#0000ff"/><rect x="4" y="414" width="6" height="6" fill="#0000ff"/><rect x="6" y="416" width="2" height="2" fill="#fff"/><rect x="1606" y="414" width="6" height="6" fill="#0000ff"/><rect x="1608" y="416" width="2" height="2" fill="#fff"/>
<rect x="5" y="447" width="1607" height="2" fill="#0000ff"/><rect x="4" y="445" width="6" height="6" fill="#0000ff"/><rect x="6" y="447" width="2" height="2" fill="#fff"/><rect x="1606" y="445" width="6" height="6" fill="#0000ff"/><rect x="1608" y="447" width="2" height="2" fill="#fff"/>
<g shape-rendering="geometricPrecision"><line x1="1175.7" y1="505.3" x2="1247" y2="434.5" stroke="#ed1c24" stroke-width="3.2"/><path d="M1258.2 423.7L1239.6 429.9L1252 442.3Z" fill="#ed1c24"/></g>
<g><rect x="5" y="621" width="2" height="28" fill="#00ff00"/><rect x="20" y="621" width="3" height="30" fill="#00ff00"/><rect x="36" y="621" width="3" height="33" fill="#00ff00"/><rect x="52" y="621" width="3" height="38" fill="#00ff00"/><rect x="68" y="621" width="3" height="40" fill="#00ff00"/><rect x="84" y="621" width="3" height="44" fill="#00ff00"/><rect x="100" y="621" width="3" height="48" fill="#00ff00"/><rect x="116" y="621" width="3" height="50" fill="#00ff00"/><rect x="132" y="621" width="3" height="51" fill="#00ff00"/><rect x="148" y="621" width="3" height="51" fill="#00ff00"/><rect x="164" y="621" width="3" height="50" fill="#00ff00"/><rect x="180" y="621" width="3" height="45" fill="#00ff00"/><rect x="196" y="621" width="3" height="44" fill="#00ff00"/><rect x="212" y="621" width="3" height="41" fill="#00ff00"/><rect x="228" y="621" width="3" height="41" fill="#00ff00"/><rect x="244" y="621" width="3" height="40" fill="#00ff00"/><rect x="260" y="621" width="3" height="38" fill="#00ff00"/><rect x="276" y="621" width="3" height="31" fill="#00ff00"/><rect x="292" y="621" width="3" height="25" fill="#00ff00"/><rect x="308" y="621" width="3" height="21" fill="#00ff00"/><rect x="324" y="621" width="3" height="17" fill="#00ff00"/><rect x="340" y="621" width="3" height="13" fill="#00ff00"/><rect x="356" y="621" width="3" height="13" fill="#00ff00"/><rect x="372" y="621" width="3" height="16" fill="#00ff00"/><rect x="388" y="621" width="3" height="20" fill="#00ff00"/><rect x="404" y="621" width="3" height="22" fill="#00ff00"/><rect x="420" y="621" width="3" height="22" fill="#00ff00"/><rect x="436" y="621" width="3" height="23" fill="#00ff00"/><rect x="452" y="621" width="3" height="26" fill="#00ff00"/><rect x="468" y="621" width="3" height="27" fill="#00ff00"/><rect x="484" y="621" width="3" height="36" fill="#00ff00"/><rect x="500" y="621" width="3" height="43" fill="#00ff00"/><rect x="516" y="621" width="3" height="46" fill="#00ff00"/><rect x="532" y="621" width="3" height="49" fill="#00ff00"/><rect x="548" y="621" width="3" height="51" fill="#00ff00"/><rect x="564" y="621" width="3" height="51" fill="#00ff00"/><rect x="580" y="621" width="3" height="50" fill="#00ff00"/><rect x="596" y="621" width="3" height="48" fill="#00ff00"/><rect x="612" y="621" width="3" height="46" fill="#00ff00"/><rect x="628" y="621" width="3" height="43" fill="#00ff00"/><rect x="644" y="621" width="3" height="36" fill="#00ff00"/><rect x="660" y="621" width="3" height="29" fill="#00ff00"/><rect x="676" y="621" width="3" height="24" fill="#00ff00"/><rect x="692" y="621" width="3" height="21" fill="#00ff00"/><rect x="708" y="621" width="3" height="20" fill="#00ff00"/><rect x="724" y="621" width="3" height="21" fill="#00ff00"/><rect x="740" y="621" width="3" height="21" fill="#00ff00"/><rect x="756" y="621" width="3" height="19" fill="#00ff00"/><rect x="772" y="621" width="3" height="17" fill="#00ff00"/><rect x="788" y="621" width="3" height="16" fill="#00ff00"/><rect x="804" y="621" width="3" height="16" fill="#00ff00"/><rect x="820" y="621" width="3" height="15" fill="#00ff00"/><rect x="836" y="621" width="3" height="26" fill="#00ff00"/><rect x="852" y="621" width="3" height="36" fill="#00ff00"/><rect x="868" y="621" width="3" height="43" fill="#00ff00"/><rect x="884" y="621" width="3" height="48" fill="#00ff00"/><rect x="900" y="621" width="3" height="54" fill="#00ff00"/><rect x="916" y="621" width="3" height="62" fill="#00ff00"/><rect x="932" y="621" width="3" height="72" fill="#00ff00"/><rect x="948" y="621" width="3" height="80" fill="#00ff00"/><rect x="964" y="621" width="3" height="85" fill="#00ff00"/><rect x="980" y="621" width="3" height="85" fill="#00ff00"/><rect x="996" y="621" width="3" height="83" fill="#00ff00"/><rect x="1012" y="621" width="3" height="82" fill="#00ff00"/><rect x="1028" y="621" width="3" height="81" fill="#00ff00"/><rect x="1044" y="621" width="3" height="79" fill="#00ff00"/><rect x="1060" y="621" width="3" height="77" fill="#00ff00"/><rect x="1076" y="621" width="3" height="72" fill="#00ff00"/><rect x="1092" y="621" width="3" height="66" fill="#00ff00"/><rect x="1108" y="621" width="3" height="58" fill="#00ff00"/><rect x="1124" y="621" width="3" height="49" fill="#00ff00"/><rect x="1140" y="621" width="3" height="40" fill="#00ff00"/><rect x="1156" y="621" width="3" height="33" fill="#00ff00"/><rect x="1172" y="621" width="3" height="27" fill="#00ff00"/><rect x="1188" y="621" width="3" height="18" fill="#00ff00"/><rect x="1204" y="621" width="3" height="9" fill="#00ff00"/><rect x="1220" y="621" width="3" height="2" fill="#00ff00"/><rect x="1236" y="617" width="3" height="4" fill="#00ff00"/><rect x="1252" y="614" width="3" height="7" fill="#00ff00"/></g>
<polyline fill="none" stroke="#ff0000" stroke-width="2" stroke-linejoin="round" points="5.5,638.0 21.5,640.3 37.5,642.7 53.5,645.7 69.5,648.9 85.5,652.1 101.5,655.1 117.5,658.1 133.5,660.9 149.5,663.5 165.5,666.1 181.5,666.9 197.5,666.9 213.5,666.9 229.5,666.9 245.5,666.9 261.5,666.0 277.5,662.8 293.5,659.5 309.5,656.4 325.5,653.6 341.5,649.4 357.5,646.9 373.5,644.4 389.5,642.3 405.5,640.8 421.5,639.8 437.5,639.0 453.5,639.0 469.5,640.0 485.5,643.5 501.5,646.7 517.5,649.6 533.5,652.9 549.5,656.2 565.5,659.4 581.5,662.5 597.5,664.6 613.5,667.1 629.5,667.1 645.5,667.1 661.5,665.3 677.5,662.4 693.5,659.0 709.5,655.7 725.5,652.5 741.5,649.4 757.5,646.9 773.5,643.9 789.5,641.6 805.5,639.3 821.5,639.0 837.5,639.1 853.5,641.4 869.5,643.0 885.5,646.5 901.5,650.6 917.5,655.7 933.5,661.7 949.5,668.9 965.5,676.5 981.5,683.2 997.5,687.9 1013.5,692.1 1029.5,695.9 1045.5,699.6 1061.5,699.8 1077.5,699.8 1093.5,699.7 1109.5,696.9 1125.5,692.2 1141.5,687.3 1157.5,682.3 1173.5,676.8 1189.5,670.0 1205.5,662.0 1221.5,654.1 1237.5,646.7 1253.5,640.0"/>
<line x1="6" y1="732.5" x2="1612" y2="732.5" stroke="#000" stroke-width="1" stroke-dasharray="3 3"/>
<line x1="6" y1="759.5" x2="1612" y2="759.5" stroke="#000" stroke-width="1" stroke-dasharray="3 3"/>
<line x1="6" y1="792.5" x2="1612" y2="792.5" stroke="#000" stroke-width="1" stroke-dasharray="3 3"/>
<polyline fill="none" stroke="#1e90ff" stroke-width="2" stroke-linejoin="round" points="5.5,778.9 21.5,778.9 37.5,782.9 53.5,783.9 69.5,782.9 85.5,786.9 101.5,786.9 117.5,786.9 133.5,783.1 149.5,783.1 165.5,779.5 181.5,773.9 197.5,773.9 213.5,773.9 229.5,777.9 245.5,777.9 261.5,771.9 277.5,758.0 293.5,758.0 309.5,758.0 325.5,757.6 341.5,756.0 357.5,765.5 373.5,772.5 389.5,773.9 405.5,773.9 421.5,770.3 437.5,771.3 453.5,774.9 469.5,772.9 485.5,783.9 501.5,781.9 517.5,778.9 533.5,778.9 549.5,778.9 565.5,776.5 581.5,775.9 597.5,773.9 613.5,773.9 629.5,770.9 645.5,758.0 661.5,757.0 677.5,757.0 693.5,762.5 709.5,764.5 725.5,768.9 741.5,765.3 757.5,762.9 773.5,762.9 789.5,765.3 805.5,765.9 821.5,765.3 837.5,781.9 853.5,783.1 869.5,783.1 885.5,783.1 901.5,784.5 917.5,788.5 933.5,790.5 949.5,790.9 965.5,790.9 981.5,782.5 997.5,778.9 1013.5,780.9 1029.5,780.9 1045.5,780.9 1061.5,780.9 1077.5,775.9 1093.5,769.9 1109.5,765.3 1125.5,759.5 1141.5,758.0 1157.5,758.0 1173.5,758.0 1189.5,752.4 1205.5,747.0 1221.5,748.6 1237.5,750.6 1253.5,751.0"/>
<rect x="1613" y="42" width="2" height="1" fill="#000"/>
<rect x="1613" y="75" width="2" height="1" fill="#000"/>
<rect x="1613" y="108" width="2" height="1" fill="#000"/>
<rect x="1613" y="141" width="2" height="1" fill="#000"/>
<rect x="1613" y="174" width="2" height="1" fill="#000"/>
<rect x="1613" y="207" width="2" height="1" fill="#000"/>
<rect x="1613" y="240" width="2" height="1" fill="#000"/>
<rect x="1613" y="273" width="2" height="1" fill="#000"/>
<rect x="1613" y="306" width="2" height="1" fill="#000"/>
<rect x="1613" y="339" width="2" height="1" fill="#000"/>
<rect x="1613" y="372" width="2" height="1" fill="#000"/>
<rect x="1613" y="405" width="2" height="1" fill="#000"/>
<rect x="1613" y="438" width="2" height="1" fill="#000"/>
<rect x="1613" y="471" width="2" height="1" fill="#000"/>
<rect x="1613" y="504" width="2" height="1" fill="#000"/>
<rect x="1613" y="537" width="2" height="1" fill="#000"/>
<rect x="1613" y="570" width="2" height="1" fill="#000"/>
<rect x="1613" y="603" width="2" height="1" fill="#000"/>
<rect x="5" y="807" width="1" height="3" fill="#000"/>
<rect x="69" y="807" width="1" height="3" fill="#000"/>
<rect x="133" y="807" width="1" height="3" fill="#000"/>
<rect x="197" y="807" width="1" height="3" fill="#000"/>
<rect x="261" y="807" width="1" height="3" fill="#000"/>
<rect x="325" y="807" width="1" height="3" fill="#000"/>
<rect x="389" y="807" width="1" height="3" fill="#000"/>
<rect x="453" y="807" width="1" height="3" fill="#000"/>
<rect x="517" y="807" width="1" height="3" fill="#000"/>
<rect x="581" y="807" width="1" height="3" fill="#000"/>
<rect x="645" y="807" width="1" height="3" fill="#000"/>
<rect x="709" y="807" width="1" height="3" fill="#000"/>
<rect x="773" y="807" width="1" height="3" fill="#000"/>
<rect x="837" y="807" width="1" height="3" fill="#000"/>
<rect x="901" y="807" width="1" height="3" fill="#000"/>
<rect x="965" y="807" width="1" height="3" fill="#000"/>
<rect x="1029" y="807" width="1" height="3" fill="#000"/>
<rect x="1093" y="807" width="1" height="3" fill="#000"/>
<rect x="1157" y="807" width="1" height="3" fill="#000"/>
<rect x="1221" y="807" width="1" height="3" fill="#000"/>
<path d="M8 36H15L11.5 40Z" fill="#000" shape-rendering="geometricPrecision"/>
<g class="t"><text transform="translate(1617.6 46) scale(0.9216 1)" xml:space="preserve">84.110</text><text transform="translate(1617.6 79) scale(0.9216 1)" xml:space="preserve">83.350</text><text transform="translate(1617.6 112) scale(0.9216 1)" xml:space="preserve">82.590</text><text transform="translate(1617.6 145) scale(0.9216 1)" xml:space="preserve">81.830</text><text transform="translate(1617.6 178) scale(0.9216 1)" xml:space="preserve">81.050</text><text transform="translate(1617.6 211) scale(0.9216 1)" xml:space="preserve">80.290</text><text transform="translate(1617.6 244) scale(0.9216 1)" xml:space="preserve">79.530</text><text transform="translate(1617.6 277) scale(0.9216 1)" xml:space="preserve">78.770</text><text transform="translate(1617.6 376) scale(0.9216 1)" xml:space="preserve">76.470</text><text transform="translate(1617.6 409) scale(0.9216 1)" xml:space="preserve">75.710</text><text transform="translate(1617.6 442) scale(0.9216 1)" xml:space="preserve">74.950</text><text transform="translate(1617.6 475) scale(0.9216 1)" xml:space="preserve">74.190</text><text transform="translate(1617.6 508) scale(0.9216 1)" xml:space="preserve">73.410</text><text transform="translate(1617.6 541) scale(0.9216 1)" xml:space="preserve">72.650</text><text transform="translate(1617.6 574) scale(0.9216 1)" xml:space="preserve">71.890</text><text transform="translate(1617.6 607) scale(0.9216 1)" xml:space="preserve">71.130</text><text transform="translate(1615.8 619) scale(0.9216 1)" xml:space="preserve">0.2772</text><text transform="translate(1615.8 625) scale(0.9216 1)" xml:space="preserve">0.00</text><text transform="translate(1616 707) scale(0.9216 1)" xml:space="preserve">-2.0811</text><text transform="translate(1615.8 723) scale(0.9216 1)" xml:space="preserve">100</text><text transform="translate(1614.8 736) scale(0.9216 1)" xml:space="preserve">80</text><text transform="translate(1614.8 763) scale(0.9216 1)" xml:space="preserve">50</text><text transform="translate(1614.8 796) scale(0.9216 1)" xml:space="preserve">15</text><text transform="translate(1615.4 803) scale(0.9216 1)" xml:space="preserve">0</text><text transform="translate(3.8 819) scale(0.9308 1)" xml:space="preserve">19 Apr 2023</text><text transform="translate(67.8 819) scale(0.9308 1)" xml:space="preserve">20 Apr 08:00</text><text transform="translate(131.8 819) scale(0.9308 1)" xml:space="preserve">21 Apr 00:00</text><text transform="translate(195.8 819) scale(0.9308 1)" xml:space="preserve">21 Apr 16:00</text><text transform="translate(259.8 819) scale(0.9308 1)" xml:space="preserve">24 Apr 08:00</text><text transform="translate(323.8 819) scale(0.9308 1)" xml:space="preserve">25 Apr 00:00</text><text transform="translate(387.8 819) scale(0.9308 1)" xml:space="preserve">25 Apr 16:00</text><text transform="translate(451.8 819) scale(0.9308 1)" xml:space="preserve">26 Apr 08:00</text><text transform="translate(515.8 819) scale(0.9308 1)" xml:space="preserve">27 Apr 04:00</text><text transform="translate(579.8 819) scale(0.9308 1)" xml:space="preserve">27 Apr 20:00</text><text transform="translate(643.8 819) scale(0.9308 1)" xml:space="preserve">28 Apr 12:00</text><text transform="translate(707.8 819) scale(0.9585 1)" xml:space="preserve">1 May 04:00</text><text transform="translate(771.8 819) scale(0.9585 1)" xml:space="preserve">1 May 20:00</text><text transform="translate(835.8 819) scale(0.9585 1)" xml:space="preserve">2 May 12:00</text><text transform="translate(899.8 819) scale(0.9585 1)" xml:space="preserve">3 May 04:00</text><text transform="translate(963.8 819) scale(0.9585 1)" xml:space="preserve">3 May 20:00</text><text transform="translate(1027.8 819) scale(0.9585 1)" xml:space="preserve">4 May 12:00</text><text transform="translate(1091.8 819) scale(0.9585 1)" xml:space="preserve">5 May 04:00</text><text transform="translate(1155.8 819) scale(0.9585 1)" xml:space="preserve">5 May 20:00</text><text transform="translate(1219.8 819) scale(0.9585 1)" xml:space="preserve">8 May 12:00</text><text transform="translate(20 41) scale(0.9492 1)" xml:space="preserve">UKOil-,H4</text><text transform="translate(68.6 41) scale(0.9216 1)" xml:space="preserve">76.614 76.637 76.551 76.575</text><text transform="translate(9.3 621) scale(0.9216 1)" xml:space="preserve">MACD(12,26,9) 0.1701 -0.4121</text><text transform="translate(9.3 725) scale(0.9216 1)" xml:space="preserve">RSI(14) 59.1616</text></g>
<rect x="1614" y="303" width="36" height="11" fill="#ff0000"/><text class="t w" transform="translate(1617.6 312) scale(0.9216 1)" xml:space="preserve">77.933</text>
<rect x="1614" y="333" width="36" height="11" fill="#ff0000"/><text class="t w" transform="translate(1617.6 342) scale(0.9216 1)" xml:space="preserve">77.240</text>
<rect x="1614" y="363" width="36" height="11" fill="#000"/><text class="t w" transform="translate(1617.6 372) scale(0.9216 1)" xml:space="preserve">76.575</text>
<rect x="1614" y="379" width="36" height="11" fill="#ff8c00"/><text class="t w" transform="translate(1617.6 388) scale(0.9216 1)" xml:space="preserve">76.177</text>
<rect x="1614" y="411" width="36" height="11" fill="#0000ff"/><text class="t w" transform="translate(1617.6 420) scale(0.9216 1)" xml:space="preserve">75.437</text>
<rect x="1614" y="442" width="36" height="11" fill="#0000ff"/><text class="t w" transform="translate(1617.6 451) scale(0.9216 1)" xml:space="preserve">74.721</text>
</g>
</svg>
</body>
</html>
